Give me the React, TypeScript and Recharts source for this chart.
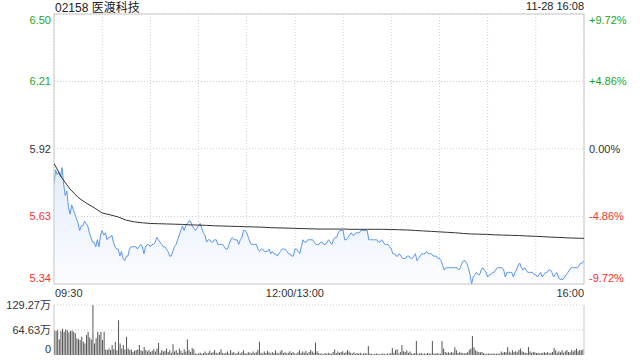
import {
  ComposedChart,
  Area,
  Line,
  XAxis,
  YAxis,
  CartesianGrid,
  ReferenceArea,
  ReferenceLine,
  BarChart,
  Bar,
} from "recharts";

// 02158 intraday, one point per minute from 09:30 (12:00-13:00 lunch break removed)
const PREV_CLOSE = 5.92;
const TITLE = "02158 医渡科技";
const STAMP = "11-28 16:08";

const PRICE_TICKS = [5.34, 5.63, 5.92, 6.21, 6.5];
const PRICE_LABELS = ["5.34", "5.63", "5.92", "6.21", "6.50"];
const PCT_LABELS = ["-9.72%", "-4.86%", "0.00%", "+4.86%", "+9.72%"];

const TIME_TICKS = [0, 30, 60, 90, 120, 150, 180, 210, 240, 270, 300, 330];
const TIME_LABELS: Record<number, string> = { 0: "09:30", 150: "12:00/13:00", 330: "16:00" };

const VOL_TICKS = [0, 64.63, 129.27];
const VOL_LABELS = ["0", "64.63万", "129.27万"];

const PRICES = [
  5.77, 5.83, 5.81, 5.82, 5.8, 5.84, 5.77, 5.72, 5.74, 5.67,
  5.64, 5.68, 5.66, 5.64, 5.62, 5.6, 5.57, 5.59, 5.59, 5.61,
  5.6, 5.59, 5.56, 5.54, 5.52, 5.52, 5.5, 5.53, 5.5, 5.55,
  5.57, 5.55, 5.56, 5.53, 5.54, 5.54, 5.55, 5.52, 5.5, 5.49,
  5.49, 5.46, 5.48, 5.45, 5.44, 5.46, 5.46, 5.49, 5.5, 5.5,
  5.5, 5.5, 5.49, 5.5, 5.51, 5.5, 5.47, 5.5, 5.51, 5.51,
  5.5, 5.51, 5.51, 5.52, 5.54, 5.53, 5.52, 5.51, 5.5, 5.5,
  5.49, 5.48, 5.46, 5.46, 5.48, 5.5, 5.51, 5.53, 5.55, 5.57,
  5.59, 5.57, 5.59, 5.6, 5.61, 5.61, 5.59, 5.58, 5.57, 5.58,
  5.59, 5.6, 5.58, 5.56, 5.55, 5.52, 5.53, 5.53, 5.52, 5.52,
  5.53, 5.53, 5.51, 5.51, 5.51, 5.51, 5.5, 5.49, 5.49, 5.51,
  5.53, 5.54, 5.53, 5.53, 5.53, 5.51, 5.53, 5.54, 5.57, 5.57,
  5.56, 5.54, 5.52, 5.51, 5.51, 5.51, 5.51, 5.49, 5.48, 5.49,
  5.49, 5.48, 5.48, 5.48, 5.49, 5.47, 5.48, 5.47, 5.47, 5.46,
  5.47, 5.48, 5.49, 5.49, 5.49, 5.48, 5.47, 5.47, 5.46, 5.46,
  5.49, 5.49, 5.48, 5.47, 5.5, 5.53, 5.52, 5.52, 5.53, 5.53,
  5.53, 5.53, 5.52, 5.51, 5.51, 5.51, 5.52, 5.52, 5.51, 5.51,
  5.52, 5.53, 5.52, 5.51, 5.53, 5.54, 5.54, 5.56, 5.57, 5.57,
  5.57, 5.53, 5.53, 5.54, 5.55, 5.56, 5.55, 5.55, 5.56, 5.56,
  5.56, 5.57, 5.57, 5.57, 5.57, 5.57, 5.53, 5.53, 5.53, 5.53,
  5.53, 5.53, 5.52, 5.52, 5.53, 5.52, 5.51, 5.51, 5.51, 5.5,
  5.49, 5.47, 5.47, 5.46, 5.46, 5.47, 5.46, 5.45, 5.45, 5.45,
  5.46, 5.46, 5.45, 5.45, 5.46, 5.47, 5.44, 5.45, 5.46, 5.47,
  5.47, 5.47, 5.48, 5.47, 5.47, 5.47, 5.46, 5.46, 5.46, 5.45,
  5.45, 5.44, 5.42, 5.4, 5.41, 5.41, 5.41, 5.41, 5.41, 5.41,
  5.41, 5.41, 5.4, 5.41, 5.43, 5.44, 5.44, 5.43, 5.41, 5.38,
  5.34, 5.37, 5.38, 5.39, 5.38, 5.38, 5.4, 5.41, 5.4, 5.39,
  5.37, 5.38, 5.38, 5.39, 5.39, 5.4, 5.41, 5.41, 5.41, 5.41,
  5.4, 5.37, 5.39, 5.39, 5.39, 5.39, 5.37, 5.39, 5.4, 5.42,
  5.43, 5.41, 5.4, 5.41, 5.4, 5.39, 5.39, 5.39, 5.39, 5.38,
  5.38, 5.37, 5.38, 5.39, 5.37, 5.38, 5.39, 5.39, 5.4, 5.4,
  5.39, 5.37, 5.38, 5.39, 5.37, 5.36, 5.36, 5.36, 5.37, 5.38,
  5.39, 5.4, 5.41, 5.41, 5.41, 5.41, 5.41, 5.42, 5.43, 5.43,
  5.44,
];

// average price, read every 5 minutes
const AVG_STEP = 5;
const AVG = [
  5.858, 5.795, 5.748, 5.712, 5.688, 5.668, 5.645, 5.637, 5.628, 5.614,
  5.607, 5.603, 5.6, 5.599, 5.598, 5.597, 5.596, 5.594, 5.593, 5.592,
  5.59, 5.589, 5.588, 5.587, 5.586, 5.585, 5.584, 5.582, 5.581, 5.58,
  5.579, 5.578, 5.577, 5.576, 5.576, 5.576, 5.576, 5.575, 5.575, 5.575,
  5.575, 5.575, 5.574, 5.573, 5.572, 5.57, 5.568, 5.566, 5.564, 5.562,
  5.56, 5.557, 5.555, 5.554, 5.553, 5.551, 5.55, 5.549, 5.548, 5.546,
  5.545, 5.543, 5.541, 5.54, 5.538, 5.537, 5.536,
];

// volume in 万 shares
const VOLUMES = [
  64, 63, 66, 40, 62, 68, 60, 66, 64, 58,
  62, 64, 60, 56, 43, 41, 39, 47, 34, 30,
  52, 60, 45, 40, 129, 30, 43, 60, 52, 60,
  39, 60, 14, 13, 17, 13, 26, 15, 34, 12,
  90, 30, 17, 26, 14, 47, 17, 13, 14, 8,
  11, 13, 14, 26, 12, 10, 21, 13, 9, 13,
  8, 11, 15, 9, 17, 31, 6, 13, 9, 11,
  17, 8, 12, 6, 28, 9, 13, 6, 17, 11,
  5, 15, 9, 40, 13, 8, 18, 15, 4, 3,
  4, 6, 3, 5, 9, 4, 6, 11, 5, 7,
  13, 6, 4, 8, 15, 5, 4, 6, 9, 4,
  13, 6, 8, 3, 5, 9, 4, 7, 12, 5,
  3, 8, 6, 4, 9, 5, 7, 13, 34, 6,
  4, 9, 5, 11, 7, 4, 8, 5, 12, 6,
  4, 9, 13, 5, 7, 4, 6, 10, 5, 8,
  4, 3, 7, 12, 5, 9, 6, 11, 4, 8,
  13, 9, 6, 32, 10, 5, 3, 4, 2, 5,
  3, 6, 4, 3, 8, 14, 5, 9, 6, 8,
  10, 5, 7, 13, 9, 6, 4, 7, 3, 5,
  4, 6, 3, 4, 5, 3, 23, 4, 3, 2,
  3, 4, 3, 2, 3, 4, 3, 2, 4, 3,
  5, 18, 6, 13, 15, 4, 8, 26, 10, 8,
  12, 6, 9, 4, 3, 5, 36, 3, 4, 5,
  3, 4, 3, 5, 4, 3, 36, 4, 3, 5,
  4, 3, 36, 17, 8, 6, 7, 5, 8, 6,
  20, 12, 5, 7, 6, 5, 4, 5, 7, 13,
  17, 49, 20, 12, 9, 8, 7, 8, 5, 3,
  3, 4, 3, 3, 4, 3, 3, 4, 3, 9,
  6, 8, 7, 20, 9, 6, 12, 8, 10, 7,
  13, 17, 10, 8, 6, 5, 21, 9, 6, 8,
  7, 5, 6, 4, 5, 6, 7, 5, 8, 4,
  6, 8, 18, 12, 6, 10, 7, 12, 6, 10,
  13, 8, 7, 13, 9, 12, 17, 10, 13, 12,
  14,
];

const data = PRICES.map((price, t) => ({
  t,
  price,
  avg: t % AVG_STEP === 0 ? AVG[t / AVG_STEP] : undefined,
  vol: VOLUMES[t],
}));

const FONT = '"Liberation Sans", Arial, "Noto Sans CJK SC", sans-serif';
const UP = "#1ea41e";
const DOWN = "#f23333";
const FLAT = "#333";
const BORDER = "#c8c8c8";
const GRID = "#cfcfcf";

const tone = (v: number) =>
  v > PREV_CLOSE + 1e-6 ? UP : v < PREV_CLOSE - 1e-6 ? DOWN : FLAT;

// end labels sit inside the plot edge
const edgeShift = (i: number, n: number) => (i === 0 ? -6 : i === n - 1 ? 6 : 0);

const LeftTick = (props: any) => {
  const { x, y, payload } = props;
  const i = PRICE_TICKS.indexOf(payload.value);
  return (
    <text x={x} y={y + edgeShift(i, PRICE_TICKS.length)} dy="0.36em" textAnchor="end"
      fontSize={11} fontFamily={FONT} fill={tone(payload.value)}>
      {PRICE_LABELS[i]}
    </text>
  );
};

const RightTick = (props: any) => {
  const { x, y, payload } = props;
  const i = PRICE_TICKS.indexOf(payload.value);
  return (
    <text x={x} y={y + edgeShift(i, PRICE_TICKS.length)} dy="0.36em" textAnchor="start"
      fontSize={11} fontFamily={FONT} fill={tone(payload.value)}>
      {PCT_LABELS[i]}
    </text>
  );
};

const TimeTick = (props: any) => {
  const { x, y, payload } = props;
  const label = TIME_LABELS[payload.value];
  if (!label) return <g />;
  const anchor = payload.value === 0 ? "start" : payload.value === 330 ? "end" : "middle";
  return (
    <text x={payload.value === 0 ? x + 1 : x} y={y} dy={13} textAnchor={anchor}
      fontSize={11} fontFamily={FONT} fill={FLAT}>
      {label}
    </text>
  );
};

const VolTick = (props: any) => {
  const { x, y, payload } = props;
  const i = VOL_TICKS.indexOf(payload.value);
  return (
    <text x={x} y={i === 0 ? y - 6 : y} dy="0.36em" textAnchor="end"
      fontSize={11} fontFamily={FONT} fill={FLAT}>
      {VOL_LABELS[i]}
    </text>
  );
};

export default function App() {
  return (
    <div style={{ position: "absolute", left: 0, top: 0, width: 640, height: 360, background: "#fff", fontFamily: FONT }}>
      <div style={{ position: "absolute", left: 55, top: 2, fontSize: 12, lineHeight: "12px", color: "#222" }}>
        {TITLE}
      </div>
      <div style={{ position: "absolute", right: 56, top: 1, fontSize: 11, lineHeight: "11px", color: "#222" }}>
        {STAMP}
      </div>
      <div style={{ position: "absolute", left: 532, top: 272, fontSize: 11, lineHeight: "11px", color: "#d6d6d6" }}>
        sina.com
      </div>

      <div style={{ position: "absolute", left: 0, top: 0 }}>
        <ComposedChart width={640} height={300} data={data} margin={{ top: 14, right: 0, bottom: 0, left: 0 }}>
          <defs>
            <linearGradient id="priceFill" x1="0" y1="0" x2="0" y2="1">
              <stop offset="0%" stopColor="#e4edfc" />
              <stop offset="100%" stopColor="#fbfcff" />
            </linearGradient>
          </defs>
          <CartesianGrid yAxisId="left" stroke={GRID} strokeDasharray="1 2" />
          <XAxis type="number" dataKey="t" domain={[0, 330]} ticks={TIME_TICKS} interval={0}
            allowDataOverflow height={16} tickSize={0} tickMargin={0} axisLine={false}
            tickLine={false} tick={TimeTick} />
          <YAxis yAxisId="left" type="number" domain={[5.34, 6.5]} ticks={PRICE_TICKS} interval={0}
            allowDataOverflow width={54} tickSize={0} tickMargin={3} axisLine={false}
            tickLine={false} tick={LeftTick} />
          <YAxis yAxisId="right" orientation="right" type="number" domain={[5.34, 6.5]}
            ticks={PRICE_TICKS} interval={0} allowDataOverflow width={56} tickSize={0}
            tickMargin={5} axisLine={false} tickLine={false} tick={RightTick} />
          <Area yAxisId="left" type="linear" dataKey="price" stroke="#5b96ef" strokeWidth={1}
            fill="url(#priceFill)" fillOpacity={1} dot={false} activeDot={false}
            isAnimationActive={false} />
          <Line yAxisId="right" type="linear" dataKey="avg" stroke="#333" strokeWidth={1}
            connectNulls dot={false} activeDot={false} isAnimationActive={false} />
          <ReferenceArea yAxisId="left" x1={0} x2={330} y1={5.34} y2={6.5} fill="none"
            fillOpacity={0} stroke={BORDER} strokeWidth={1} />
        </ComposedChart>
      </div>

      <div style={{ position: "absolute", left: 0, top: 300 }}>
        <BarChart width={640} height={60} data={data} margin={{ top: 5, right: 0, bottom: 5, left: 0 }}
          barCategoryGap={0}>
          <XAxis dataKey="t" hide />
          <YAxis yAxisId="v" type="number" domain={[0, 129.27]} ticks={VOL_TICKS} interval={0}
            allowDataOverflow width={54} tickSize={0} tickMargin={3} axisLine={{ stroke: BORDER }}
            tickLine={false} tick={VolTick} />
          <YAxis yAxisId="r" orientation="right" type="number" domain={[0, 129.27]} width={56}
            tick={false} tickLine={false} axisLine={{ stroke: BORDER }} />
          <ReferenceLine yAxisId="v" y={64.63} stroke={GRID} strokeDasharray="1 2" />
          <ReferenceLine yAxisId="v" y={129.27} stroke={GRID} strokeDasharray="1 2" />
          <Bar yAxisId="v" dataKey="vol" fill="#555" barSize={1} isAnimationActive={false} />
        </BarChart>
      </div>
    </div>
  );
}
